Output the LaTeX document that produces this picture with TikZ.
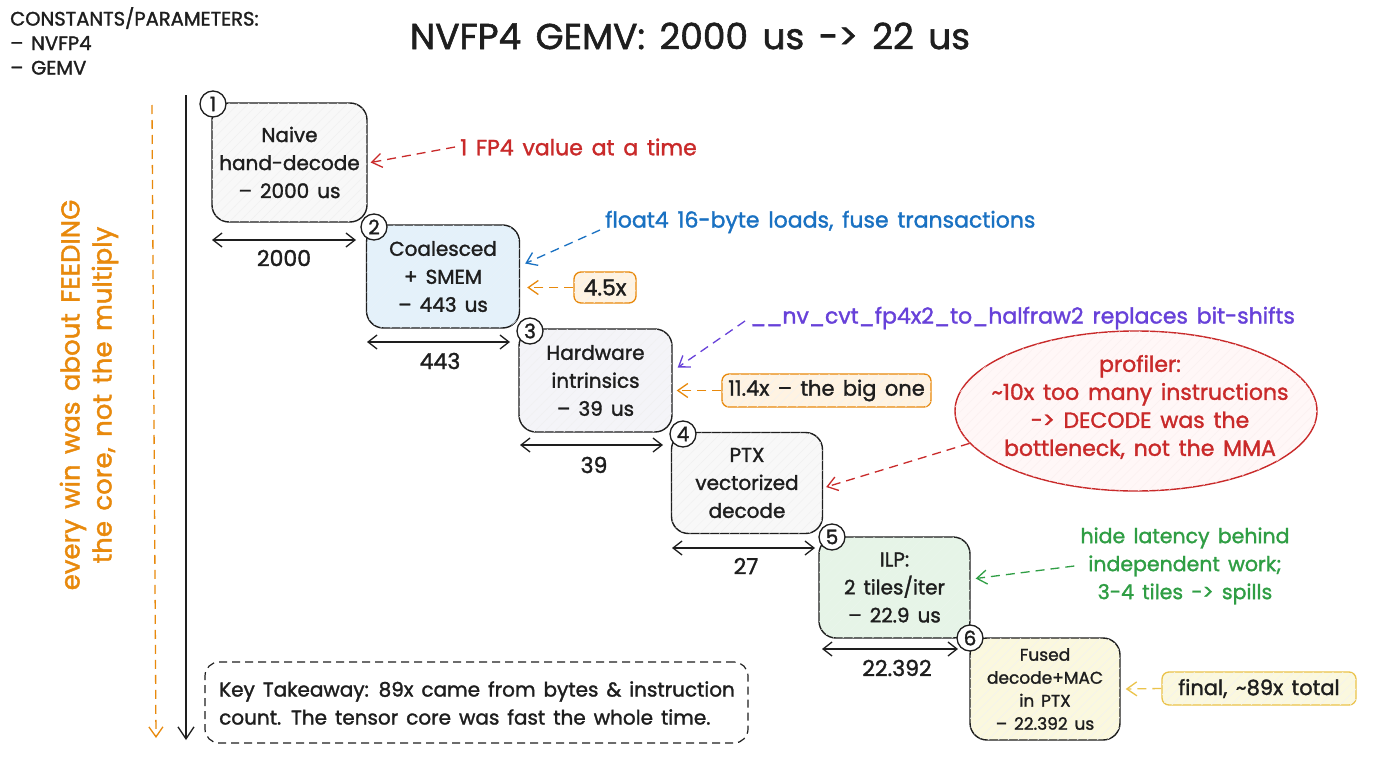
\documentclass[tikz,border=0pt]{standalone}
\usepackage{fontspec}
\setmainfont{Poppins}[WordSpace=1.5, FakeBold=1.5]
\usetikzlibrary{arrows.meta,patterns.meta,shapes.geometric,calc}
\definecolor{ink}{HTML}{1E1E1E}
\definecolor{cred}{HTML}{C92A2A}
\definecolor{cblue}{HTML}{1971C2}
\definecolor{cpurple}{HTML}{6741D9}
\definecolor{corange}{HTML}{E8890C}
\definecolor{cgreen}{HTML}{2F9E44}
\definecolor{cyellow}{HTML}{EBC34A}
\definecolor{fgray}{HTML}{F8F8F8}
\definecolor{fblue}{HTML}{E4F1FA}
\definecolor{flav}{HTML}{F4F4F8}
\definecolor{fgreen}{HTML}{E6F4E7}
\definecolor{fyellow}{HTML}{FBF8DE}
\definecolor{forange}{HTML}{FFF3E2}
\definecolor{fred}{HTML}{FFF7F7}
\tikzset{
  hatch/.style={postaction={pattern color=#1,pattern={Lines[angle=45,distance=7pt,line width=0.5pt]}}},
  hatch/.default=black!6,
  stage/.style={draw=ink, line width=1.4pt, rounded corners=17pt, align=center, text=ink,
    font=\fontsize{20}{28}\selectfont, inner sep=0pt},
  badge/.style={circle, draw=ink, fill=white, line width=1.3pt, minimum size=26pt, inner sep=0pt,
    font=\fontsize{20}{20}\selectfont, text=ink},
  spanarrow/.style={{Straight Barb[length=9pt,width=14pt]}-{Straight Barb[length=9pt,width=14pt]}, line width=1.3pt, draw=ink},
  annarrow/.style={dash pattern=on 9pt off 6pt, line width=1.3pt, -{Straight Barb[length=10pt,width=14pt]}},
  annot/.style={font=\fontsize{22}{28}\selectfont, inner sep=0pt},
  numlbl/.style={font=\fontsize{22}{24}\selectfont, text=ink, inner sep=0pt},
  tagbox/.style={rounded corners=7pt, line width=1.3pt, inner sep=0pt, text=ink,
    font=\fontsize{21}{24}\selectfont, hatch=black!5}
}
\begin{document}
\begin{tikzpicture}[x=1pt,y=-1pt]
\useasboundingbox (0,0) rectangle (1376,768);
\fill[white] (0,0) rectangle (1376,768);

% header texts
\node[anchor=north west, align=left, text=ink, inner sep=0pt, font=\fontsize{19.5}{24.5}\selectfont] (consts) at (10,7)
  {CONSTANTS/PARAMETERS:\\– NVFP4\\– GEMV};
\node[text=ink, inner sep=0pt, font=\fontsize{36}{40}\selectfont] (title) at (690,36) {NVFP4 GEMV: 2000 us -> 22 us};

% left axis
\coordinate (vtop) at (186,95);
\coordinate (vbot) at (186,740);
\draw[ink, line width=1.3pt, -{Straight Barb[length=12pt,width=16pt]}] (vtop) -- (vbot);
\coordinate (otop) at (152,105);
\coordinate (obot) at (156,738);
\draw[annarrow, corange] (otop) -- (obot);
\node[rotate=90, text=corange, align=center, inner sep=0pt, font=\fontsize{26}{32}\selectfont] (vtext) at (89,395)
  {every win was about FEEDING\\the core, not the multiply};

% stages
\node[stage, fill=fgray, hatch, minimum width=155pt, minimum height=119pt] (s1) at (289.5,162.5) {Naive\\hand-decode\\– 2000 us};
\node[stage, fill=fblue, hatch=cblue!10, minimum width=153pt, minimum height=103pt] (s2) at (443,276.5) {Coalesced\\+ SMEM\\– 443 us};
\node[stage, fill=flav, hatch, minimum width=153pt, minimum height=103pt] (s3) at (595.5,380.5) {Hardware\\intrinsics\\– 39 us};
\node[stage, fill=fgray, hatch, minimum width=151pt, minimum height=101pt] (s4) at (747,483) {PTX\\vectorized\\decode};
\node[stage, fill=fgreen, hatch=cgreen!10, minimum width=151pt, minimum height=101pt] (s5) at (894.5,587.5) {ILP:\\2 tiles/iter\\– 22.9 us};
\node[stage, fill=fyellow, hatch=black!5, font=\fontsize{17}{23}\selectfont, minimum width=150pt, minimum height=102pt] (s6) at (1045,689) {Fused\\decode+MAC\\in PTX\\– 22.392 us};

% badges
\node[badge] (b1) at (213,104) {1};
\node[badge] (b2) at (374,227) {2};
\node[badge] (b3) at (530,331) {3};
\node[badge] (b4) at (683,434) {4};
\node[badge] (b5) at (832,537) {5};
\node[badge] (b6) at (970,638) {6};

% spans
\coordinate (p1a) at (212,240); \coordinate (p1b) at (356,240);
\draw[spanarrow] (p1a) -- (p1b);
\node[numlbl] (l1) at (284,258) {2000};
\coordinate (p2a) at (367,342); \coordinate (p2b) at (510,342);
\draw[spanarrow] (p2a) -- (p2b);
\node[numlbl] (l2) at (440,361) {443};
\coordinate (p3a) at (520,445); \coordinate (p3b) at (663,445);
\draw[spanarrow] (p3a) -- (p3b);
\node[numlbl] (l3) at (594,465) {39};
\coordinate (p4a) at (672,548); \coordinate (p4b) at (815,548);
\draw[spanarrow] (p4a) -- (p4b);
\node[numlbl] (l4) at (746,566) {27};
\coordinate (p5a) at (822,649); \coordinate (p5b) at (958,649);
\draw[spanarrow] (p5a) -- (p5b);
\node[numlbl] (l5) at (897,668) {22.392};

% annotations
\node[annot, text=cred, anchor=west] (a1) at (460,147) {1 FP4 value at a time};
\draw[annarrow, cred] ($(a1.west)+(-5,0)$) -- ($(s1.east)+(3,0)$);

\node[annot, text=cblue, anchor=west] (a2) at (605,222) {float4 16-byte loads, fuse transactions};
\draw[annarrow, cblue] ($(a2.west)+(-5,8)$) -- ($(s2.east)+(5,-13)$);

\node[tagbox, draw=corange, fill=forange, minimum width=62pt, minimum height=31pt, font=\fontsize{22}{24}\selectfont] (t1) at (605,287.5) {4.5x};
\draw[annarrow, corange] (t1.west) -- ($(s2.east)+(7,11)$);

\node[annot, text=cpurple, anchor=west] (a3) at (750,318) {\_\_nv\_cvt\_fp4x2\_to\_halfraw2 replaces bit-shifts};
\draw[annarrow, cpurple] ($(a3.west)+(-5,3)$) -- ($(s3.east)+(5,-13)$);

\node[tagbox, draw=corange, fill=forange, minimum width=209pt, minimum height=33pt] (t2) at (826.5,390.5) {11.4x – the big one};
\draw[annarrow, corange] (t2.west) -- ($(s3.east)+(4,10)$);

\node[ellipse, draw=cred, fill=fred, hatch=cred!7, line width=1.4pt, minimum width=362pt, minimum height=160pt, inner sep=0pt] (ell) at (1136,411) {};
\node[annot, text=cred, align=center] (elltext) at (1140,407)
  {profiler:\\\textasciitilde10x too many instructions\\-> DECODE was the\\bottleneck, not the MMA};
\draw[annarrow, cred] (ell.191) -- ($(s4.east)+(3,4)$);

\node[annot, text=cgreen, align=center, font=\fontsize{20.5}{28}\selectfont] (a4) at (1185,566) {hide latency behind\\independent work;\\3-4 tiles -> spills};
\draw[annarrow, cgreen] ($(a4.west)+(-6,0)$) -- ($(s5.east)+(5,-9)$);

\node[tagbox, draw=cyellow, fill=fyellow, minimum width=194pt, minimum height=33pt] (t3) at (1259,688.5) {final, \textasciitilde89x total};
\draw[annarrow, cyellow] (t3.west) -- ($(s6.east)+(5,0)$);

% takeaway
\node[draw=ink, dash pattern=on 8pt off 5pt, rounded corners=14pt, line width=1.2pt, minimum width=543pt, minimum height=81pt] (kt) at (476.5,702.5) {};
\node[annot, align=left, anchor=west, text=ink, font=\fontsize{20}{28}\selectfont] (ktt) at (219,703)
  {Key Takeaway: 89x came from bytes \& instruction\\count. The tensor core was fast the whole time.};
\end{tikzpicture}
\end{document}
